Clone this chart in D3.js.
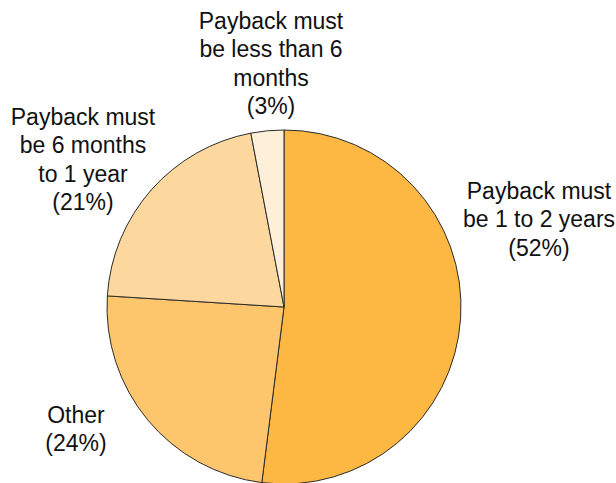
<!DOCTYPE html>
<html><head><meta charset="utf-8">
<script src="https://cdn.jsdelivr.net/npm/d3@7"></script>
<style>html,body{margin:0;padding:0;background:#fff;}svg{display:block;}</style>
</head><body>
<script>
const categories = ["Payback must be 1 to 2 years", "Other", "Payback must be 6 months to 1 year", "Payback must be less than 6 months"];
const values = [52, 24, 21, 3];
const labelLines = [
  ["Payback must", "be 1 to 2 years", "(52%)"],
  ["Other", "(24%)"],
  ["Payback must", "be 6 months", "to 1 year", "(21%)"],
  ["Payback must", "be less than 6", "months", "(3%)"]
];
const colors = ["#FDB844", "#FDC56C", "#FDD89E", "#FEEFD8"];

const W = 616, H = 483;
const cx = 284, cy = 307, R = 177;
const fontSize = 23, lineH = 28.3;
// label anchor: center x and first-line baseline
const labelPos = [[539, 199], [76, 423], [83, 125], [271, 29]];

const svg = d3.select("body").append("svg").attr("width", W).attr("height", H);
const pie = d3.pie().sort(null).value(d => d)(values);
const arc = d3.arc().innerRadius(0).outerRadius(R);
const color = d3.scaleOrdinal().domain(d3.range(values.length)).range(colors);

const g = svg.append("g").attr("transform", `translate(${cx},${cy})`);
g.selectAll("path").data(pie).join("path")
  .attr("d", arc)
  .attr("fill", (d, i) => color(i))
  .attr("stroke", "#2b2b2b")
  .attr("stroke-width", 1)
  .attr("stroke-linejoin", "round");

const lbl = svg.append("g").selectAll("text").data(labelLines).join("text")
  .attr("text-anchor", "middle")
  .attr("font-family", "Liberation Sans, Arial, sans-serif")
  .attr("font-size", fontSize)
  .attr("fill", "#111")
  .attr("transform", (d, i) => `translate(${labelPos[i][0]},${labelPos[i][1]})`);
lbl.selectAll("tspan").data(d => d).join("tspan")
  .attr("x", 0)
  .attr("y", (d, i) => i * lineH)
  .text(d => d);
</script>
</body></html>
